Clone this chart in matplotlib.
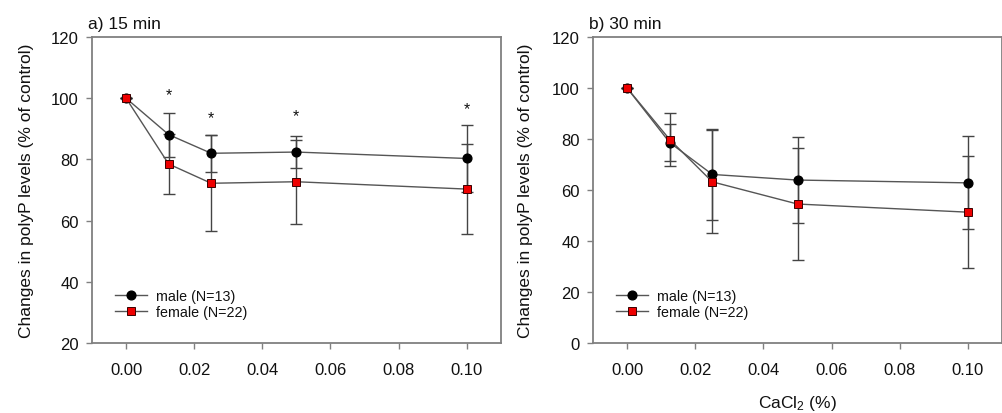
import matplotlib
matplotlib.use("Agg")
import matplotlib.pyplot as plt

plt.rcParams['font.family'] = ['Liberation Sans', 'DejaVu Sans']
plt.rcParams['mathtext.default'] = 'regular'

# ---- data ----
conc = [0.0, 0.0125, 0.025, 0.05, 0.10]

male_15 = [100.0, 88.1, 82.0, 82.4, 80.3]
male_15_err = [0.0, 7.2, 6.1, 5.3, 11.0]
female_15 = [100.0, 78.5, 72.2, 72.7, 70.3]
female_15_err = [0.0, 9.8, 15.7, 13.7, 14.8]

male_30 = [100.0, 78.6, 66.1, 63.9, 62.8]
male_30_err = [0.0, 7.4, 17.9, 17.0, 18.2]
female_30 = [100.0, 79.8, 63.2, 54.5, 51.3]
female_30_err = [0.0, 10.3, 20.2, 22.0, 21.9]

star_x = [0.0125, 0.025, 0.05, 0.10]
star_y = [101.0, 93.6, 94.2, 96.7]

xticks = [0.00, 0.02, 0.04, 0.06, 0.08, 0.10]
yticks_a = [20, 40, 60, 80, 100, 120]
yticks_b = [0, 20, 40, 60, 80, 100, 120]

labels = ["male (N=13)", "female (N=22)"]
titles = ["a) 15 min", "b) 30 min"]
ylabel = "Changes in polyP levels (% of control)"
xlabel = "CaCl$_2$ (%)"

# ---- figure ----
W, H = 1003, 414
fig = plt.figure(figsize=(W / 100, H / 100), dpi=100)

def px_axes(left, top, right, bottom):
    return fig.add_axes([left / W, 1 - bottom / H, (right - left) / W, (bottom - top) / H])

ax_a = px_axes(92, 38, 500.7, 344)
ax_b = px_axes(593, 38, 1002, 344)

spine_col = '#808080'
line_col = '#555555'
err_col = '#444444'

def draw(ax, m, me, f, fe, yticks, ylim, title, ylab_x):
    ax.errorbar(conc, m, yerr=me, fmt='none', ecolor=err_col, elinewidth=1,
                capsize=4.5, capthick=1, zorder=2)
    ax.errorbar(conc, f, yerr=fe, fmt='none', ecolor=err_col, elinewidth=1,
                capsize=4.5, capthick=1, zorder=2)
    ax.plot(conc, m, '-', color=line_col, lw=1, marker='o', ms=6.3,
            mfc='black', mec='black', label=labels[0], zorder=3)
    ax.plot(conc, f, '-', color=line_col, lw=1, marker='s', ms=5.6,
            mfc='#ee0000', mec='#3a0000', mew=0.7, label=labels[1], zorder=4)
    ax.set_xlim(-0.01, 0.11)
    ax.set_ylim(*ylim)
    ax.set_xticks(xticks)
    ax.set_xticklabels([f"{t:.2f}" for t in xticks])
    ax.set_yticks(yticks)
    for s in ax.spines.values():
        s.set_color(spine_col)
        s.set_linewidth(1.3)
    ax.tick_params(direction='out', length=4.5, width=1, color=spine_col,
                   labelsize=12, labelcolor='#111111', pad=5)
    ax.tick_params(axis='x', pad=9)
    ax.set_ylabel(ylabel, fontsize=12.5, color='#111111')
    ax.yaxis.set_label_coords(ylab_x, 0.5)
    ax.text(-0.01, 1.043, title, transform=ax.transAxes, fontsize=12.5,
            ha='left', va='center', color='#111111')
    leg = ax.legend(loc='lower left', bbox_to_anchor=(0.056, 0.078), frameon=False,
                    fontsize=10.3, handlelength=2.25, handletextpad=0.6,
                    labelspacing=0.15, borderpad=0, borderaxespad=0)
    for t in leg.get_texts():
        t.set_color('#111111')

draw(ax_a, male_15, male_15_err, female_15, female_15_err, yticks_a, (20, 120), titles[0], -0.142)
draw(ax_b, male_30, male_30_err, female_30, female_30_err, yticks_b, (0, 120), titles[1], -0.147)

for sx, sy in zip(star_x, star_y):
    ax_a.text(sx, sy, "*", ha='center', va='center', fontsize=11.5, color='#111111')

ax_b.set_xlabel(xlabel, fontsize=12.5, color='#111111')
ax_b.xaxis.set_label_coords(0.5, -0.193)
ax_b.xaxis.label.set_va('center')

fig.savefig("out.png", dpi=100)
